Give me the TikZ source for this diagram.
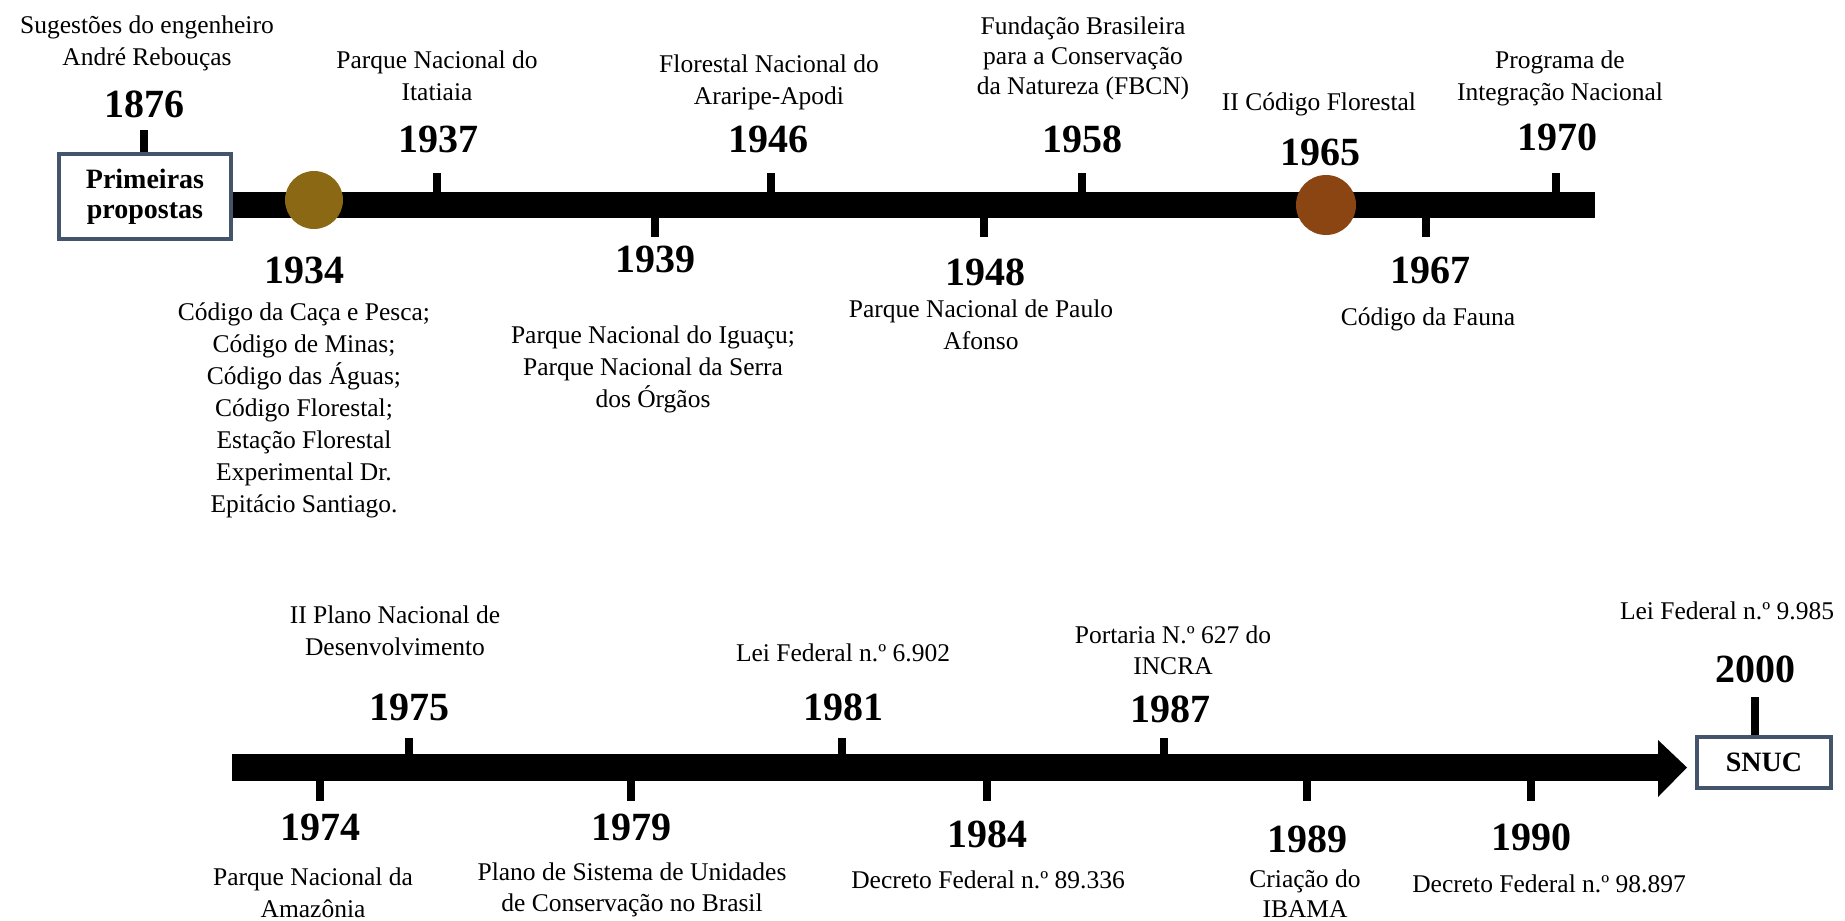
\documentclass[tikz,border=0pt]{standalone}
\usepackage{fontspec}
\setmainfont{Liberation Serif}
\definecolor{boxc}{RGB}{68,84,106}
\definecolor{circa}{RGB}{139,105,20}
\definecolor{circb}{RGB}{139,69,19}
\tikzset{
  yr/.style={font=\fontsize{40}{40}\selectfont\bfseries, inner sep=0pt, anchor=base},
  lbl/.style={font=\fontsize{25.5}{32}\selectfont, align=center, inner sep=0pt, anchor=base},
  tickmark/.style={line width=8pt},
  barfill/.style={fill=black},
  endbox/.style={draw=boxc, line width=4pt, fill=white, font=\fontsize{28}{30}\selectfont\bfseries, align=center, inner sep=0pt},
  dot/.style={circle, inner sep=0pt}
}
\begin{document}
\begin{tikzpicture}[x=1pt,y=-1pt]
\useasboundingbox (0,0) rectangle (1845,921);
% ---------- top timeline ----------
\fill[barfill] (233,192) rectangle (1595,218);
\node[endbox, minimum width=172pt, minimum height=85pt] (prim) at (145,196.5) {Primeiras\\propostas};
\node[dot, fill=circa, minimum size=58pt] (c1934) at (314,200) {};
\node[dot, fill=circb, minimum size=60pt] (c1965) at (1326,205) {};

\coordinate (t1876) at (144,130);
\draw[tickmark] (t1876) -- (t1876 |- prim.north);
\foreach \n/\x in {1937/437, 1946/771, 1958/1082, 1970/1556}{
  \coordinate (a\n) at (\x,173);
  \coordinate (b\n) at (\x,193);
  \draw[tickmark] (a\n) -- (b\n);
}
\foreach \n/\x in {1939/655, 1948/984, 1967/1426}{
  \coordinate (a\n) at (\x,217);
  \coordinate (b\n) at (\x,237);
  \draw[tickmark] (a\n) -- (b\n);
}

% labels: the base anchor of a multi-line node is the baseline of its last line
\node[lbl] (d1876) at (147,65) {Sugestões do engenheiro\\André Rebouças};
\node[yr] (y1876) at (144,117) {1876};
\node[lbl] (d1937) at (437,100) {Parque Nacional do\\Itatiaia};
\node[yr] (y1937) at (438,152) {1937};
\node[lbl] (d1946) at (769,104) {Florestal Nacional do\\Araripe-Apodi};
\node[yr] (y1946) at (768,152) {1946};
\node[lbl, font=\fontsize{25.5}{30}\selectfont] (d1958) at (1083,94) {Fundação Brasileira\\para a Conservação\\da Natureza (FBCN)};
\node[yr] (y1958) at (1082,152) {1958};
\node[lbl] (d1965) at (1319,110) {II Código Florestal};
\node[yr] (y1965) at (1320,165) {1965};
\node[lbl] (d1970) at (1560,100) {Programa de\\Integração Nacional};
\node[yr] (y1970) at (1557,150) {1970};

\node[yr] (y1934) at (304,283) {1934};
\node[lbl] (d1934) at (304,512) {Código da Caça e Pesca;\\Código de Minas;\\Código das Águas;\\Código Florestal;\\Estação Florestal\\Experimental Dr.\\Epitácio Santiago.};
\node[yr] (y1939) at (655,272) {1939};
\node[lbl] (d1939) at (653,407) {Parque Nacional do Iguaçu;\\Parque Nacional da Serra\\dos Órgãos};
\node[yr] (y1948) at (985,285) {1948};
\node[lbl] (d1948) at (981,349) {Parque Nacional de Paulo\\Afonso};
\node[yr] (y1967) at (1430,283) {1967};
\node[lbl] (d1967) at (1428,325) {Código da Fauna};

% ---------- bottom timeline ----------
\fill[barfill] (232,754) rectangle (1659,781);
\fill[barfill] (1658,740) -- (1687,767.5) -- (1658,797) -- cycle;
\node[endbox, minimum width=134pt, minimum height=51pt] (snuc) at (1764,762.5) {SNUC};
\coordinate (t2000) at (1755,697);
\draw[tickmark] (t2000) -- (t2000 |- snuc.north);

\foreach \n/\x in {1975/409, 1981/842, 1987/1164}{
  \coordinate (a\n) at (\x,738);
  \coordinate (b\n) at (\x,755);
  \draw[tickmark] (a\n) -- (b\n);
}
\foreach \n/\x in {1974/320, 1979/631, 1984/987, 1989/1307, 1990/1531}{
  \coordinate (a\n) at (\x,780);
  \coordinate (b\n) at (\x,801);
  \draw[tickmark] (a\n) -- (b\n);
}

\node[lbl] (d1975) at (395,655) {II Plano Nacional de\\Desenvolvimento};
\node[yr] (y1975) at (409,720) {1975};
\node[lbl] (d1981) at (843,661) {Lei Federal n.º 6.902};
\node[yr] (y1981) at (843,720) {1981};
\node[lbl, font=\fontsize{25.5}{31}\selectfont] (d1987) at (1173,674) {Portaria N.º 627 do\\INCRA};
\node[yr] (y1987) at (1170,722) {1987};
\node[lbl] (d2000) at (1727,619) {Lei Federal n.º 9.985};
\node[yr] (y2000) at (1755,682) {2000};

\node[yr] (y1974) at (320,840) {1974};
\node[lbl] (d1974) at (313,917) {Parque Nacional da\\Amazônia};
\node[yr] (y1979) at (631,840) {1979};
\node[lbl, font=\fontsize{25.5}{31}\selectfont] (d1979) at (632,911) {Plano de Sistema de Unidades\\de Conservação no Brasil};
\node[yr] (y1984) at (987,847) {1984};
\node[lbl] (d1984) at (988,888) {Decreto Federal n.º 89.336};
\node[yr] (y1989) at (1307,852) {1989};
\node[lbl, font=\fontsize{25.5}{30}\selectfont] (d1989) at (1305,917) {Criação do\\IBAMA};
\node[yr] (y1990) at (1531,850) {1990};
\node[lbl] (d1990) at (1549,892) {Decreto Federal n.º 98.897};
\end{tikzpicture}
\end{document}
